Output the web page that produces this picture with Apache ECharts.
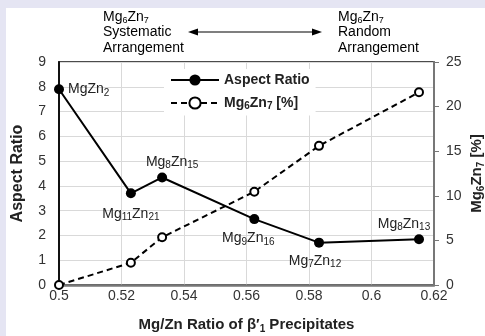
<!DOCTYPE html>
<html>
<head>
<meta charset="utf-8">
<script src="https://cdn.jsdelivr.net/npm/echarts@6/dist/echarts.min.js"></script>
<style>
  html, body { margin: 0; padding: 0; }
  #frame { position: relative; width: 485px; height: 336px; background: #e5e5f3; }
  #chart { position: absolute; left: 6px; top: 8px; width: 479px; height: 328px; background: #fff; }
</style>
</head>
<body>
<div id="frame"><div id="chart"></div></div>
<script>
// Mg/Zn ratio of each precipitate phase
const ratio = [0.5, 0.523, 0.533, 0.5625, 0.5832, 0.6152];
const phases = ['MgZn2', 'Mg11Zn21', 'Mg8Zn15', 'Mg9Zn16', 'Mg7Zn12', 'Mg8Zn13'];
const aspectRatio = [7.9, 3.7, 4.34, 2.66, 1.71, 1.85];
const mg6zn7Pct = [0, 2.5, 5.35, 10.46, 15.6, 21.6];

const FONT = '"Liberation Sans", Arial, sans-serif';

// digits become subscripts
function subs(txt, main) {
    return txt.replace(/(\d+)|([^\d]+)/g, (m, d, t) => d ? '{s|' + d + '}' : '{' + main + '|' + t + '}');
}

function richSet(size, subSize, bold) {
    const w = bold ? 'bold' : 'normal';
    const main = {fontFamily: FONT, fontSize: size, fontWeight: w, color: '#222', lineHeight: size + 3};
    const sub = {fontFamily: FONT, fontSize: subSize, fontWeight: w, color: '#222', lineHeight: subSize + 1, verticalAlign: 'bottom'};
    return {n: main, b: main, s: sub};
}

// where each phase label sits relative to its point
const labelPlace = [
    {position: 'right', offset: [0, 0]},
    {position: 'bottom', offset: [0, 3]},
    {position: 'top', offset: [10, 2]},
    {position: 'bottom', offset: [-6, 2]},
    {position: 'bottom', offset: [-4, 1]},
    {position: 'top', offset: [-15, 2]}
];

const arData = ratio.map((x, i) => ({
    value: [x, aspectRatio[i]],
    label: {
        show: true,
        position: labelPlace[i].position,
        offset: labelPlace[i].offset,
        distance: 4,
        formatter: subs(phases[i], 'n'),
        rich: richSet(14, 10, false)
    }
}));
const pctData = ratio.map((x, i) => [x, mg6zn7Pct[i]]);

const chart = echarts.init(document.getElementById('chart'), null, {renderer: 'canvas'});

const axisLabel = {fontFamily: FONT, fontSize: 14, color: '#333'};

let option = {
    animation: false,
    textStyle: {fontFamily: FONT},
    grid: {
        left: 53, right: 51, top: 54, bottom: 51,
        outerBoundsMode: 'none',
        containLabel: false,
        show: true, borderColor: '#111', borderWidth: 1.5
    },
    legend: {
        left: 158, top: 61,
        orient: 'vertical',
        backgroundColor: '#fff',
        padding: [4, 6, 4, 6],
        itemWidth: 48, itemHeight: 14, itemGap: 9,
        data: ['Aspect Ratio', 'Mg6Zn7 [%]'],
        formatter: name => subs(name, 'b'),
        textStyle: {rich: richSet(14, 10, true)}
    },
    xAxis: {
        type: 'value',
        min: 0.5, max: 0.62, interval: 0.02,
        axisLine: {show: true, onZero: false, lineStyle: {color: '#777', width: 2.5}},
        axisTick: {show: false},
        splitLine: {show: true, lineStyle: {color: '#d9d9d9', width: 1}},
        axisLabel: Object.assign({margin: 4, formatter: v => String(parseFloat(v.toFixed(2)))}, axisLabel),
        name: '{b|Mg/Zn Ratio of β′}{s|1}{b| Precipitates}',
        nameLocation: 'middle',
        nameGap: 31,
        nameTextStyle: {rich: richSet(15, 10, true)}
    },
    yAxis: [{
        type: 'value',
        min: 0, max: 9, interval: 1,
        axisLine: {show: true, lineStyle: {color: '#111', width: 2}},
        axisTick: {show: false},
        splitLine: {show: true, lineStyle: {color: '#d9d9d9', width: 1}},
        axisLabel: Object.assign({margin: 13}, axisLabel),
        name: 'Aspect Ratio',
        nameLocation: 'middle',
        nameGap: 33,
        nameTextStyle: {fontFamily: FONT, fontSize: 16, fontWeight: 'bold', color: '#222'}
    }, {
        type: 'value',
        position: 'right',
        min: 0, max: 25, interval: 5,
        axisLine: {show: true, lineStyle: {color: '#777', width: 2}},
        axisTick: {show: true, length: 5, lineStyle: {color: '#777', width: 1}},
        splitLine: {show: false},
        axisLabel: Object.assign({margin: 12}, axisLabel),
        name: subs('Mg6Zn7 [%]', 'b'),
        nameLocation: 'middle',
        nameGap: 34,
        nameMoveOverlap: false,
        nameTextStyle: {rich: richSet(15, 10, true)}
    }],
    series: [{
        name: 'Aspect Ratio',
        type: 'line',
        yAxisIndex: 0,
        data: arData,
        symbol: 'circle',
        symbolSize: 10,
        itemStyle: {color: '#000'},
        lineStyle: {color: '#000', width: 2},
        z: 3
    }, {
        name: 'Mg6Zn7 [%]',
        type: 'line',
        yAxisIndex: 1,
        data: pctData,
        symbol: 'emptyCircle',
        symbolSize: 8,
        itemStyle: {color: '#000', borderColor: '#000', borderWidth: 1.5},
        lineStyle: {color: '#000', width: 2, type: [6, 4]},
        z: 2
    }],
    graphic: [
        {
            type: 'text', left: 97, top: 2,
            style: {text: '{n|Mg}{s|6}{n|Zn}{s|7}\n{n|Systematic}\n{n|Arrangement}', rich: {
                n: {fontFamily: FONT, fontSize: 14, color: '#222', lineHeight: 15.5},
                s: {fontFamily: FONT, fontSize: 9, color: '#222', lineHeight: 9, verticalAlign: 'bottom'}
            }}
        },
        {
            type: 'text', left: 332, top: 2,
            style: {text: '{n|Mg}{s|6}{n|Zn}{s|7}\n{n|Random}\n{n|Arrangement}', rich: {
                n: {fontFamily: FONT, fontSize: 14, color: '#222', lineHeight: 15.5},
                s: {fontFamily: FONT, fontSize: 9, color: '#222', lineHeight: 9, verticalAlign: 'bottom'}
            }}
        },
        {
            type: 'line', shape: {x1: 188, y1: 24, x2: 310, y2: 24},
            style: {stroke: '#000', lineWidth: 1.2}
        },
        {
            type: 'polygon', shape: {points: [[182, 24], [192, 20.5], [192, 27.5]]},
            style: {fill: '#000'}
        },
        {
            type: 'polygon', shape: {points: [[316, 24], [306, 20.5], [306, 27.5]]},
            style: {fill: '#000'}
        }
    ]
};

chart.setOption(option);
</script>
</body>
</html>
